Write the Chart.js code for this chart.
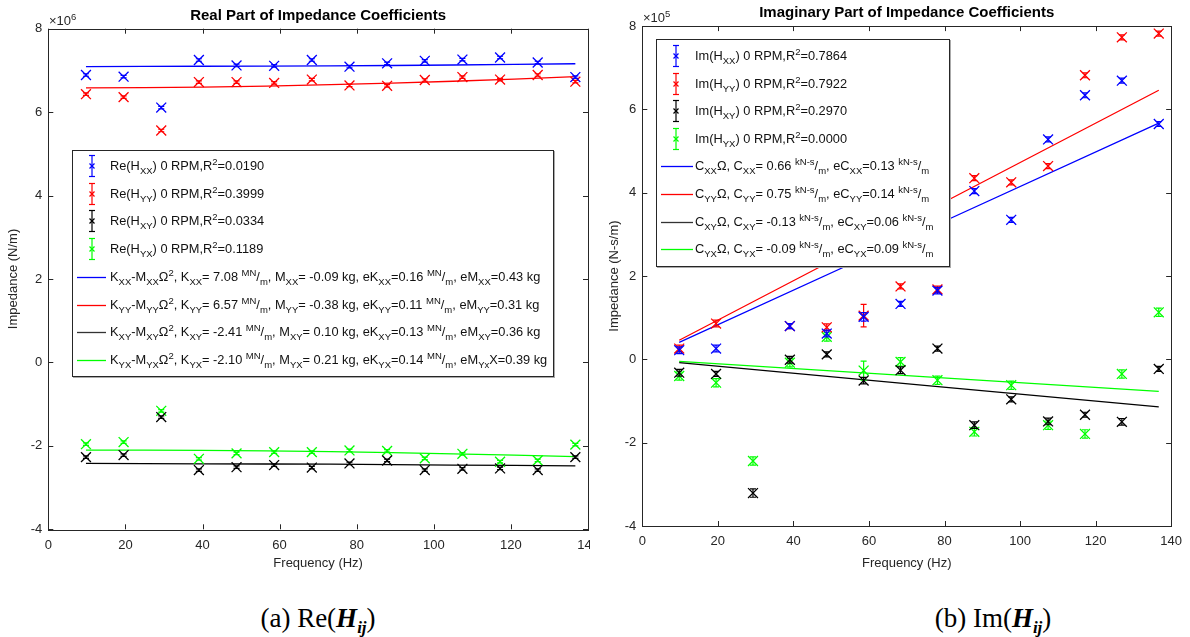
<!DOCTYPE html>
<html>
<head>
<meta charset="utf-8">
<script src="https://cdn.jsdelivr.net/npm/chart.js@4.4.1/dist/chart.umd.min.js"></script>
<style>
    body { margin: 0; background: #fff; width: 1190px; height: 637px; overflow: hidden; position: relative; font-family: "Liberation Sans", Arial, sans-serif; }
    .panel { position: absolute; top: 0; height: 580px; background: #fff; }
    #left { left: 0; width: 620px; }
    #right { left: 590px; width: 600px; }
    .expo { position: absolute; font-size: 13px; color: #262626; }
    .legend { position: absolute; background: #fff; border: 1px solid #262626; box-shadow: 1px 1px 0 #aaa; font-size: 12.8px; color: #111; }
    .legend .row { position: absolute; left: 0; height: 24px; white-space: nowrap; }
    .legend svg { position: absolute; left: 0; top: 0; }
    .legend .txt { position: absolute; top: 4px; line-height: 16px; }
    sub, sup { font-size: 9.5px; line-height: 0; position: relative; vertical-align: baseline; }
    sub { top: 4px; }
    sup { top: -5px; }
    .caption { position: absolute; top: 603px; font-family: "Liberation Serif", "Times New Roman", serif; font-size: 27px; color: #000; transform: translateX(-50%); white-space: nowrap; }
    .caption sub { font-size: 17px; top: 6px; }
</style>
</head>
<body>
<div class="panel" id="left"><canvas id="reChart"></canvas></div>
<div class="panel" id="right"><canvas id="imChart"></canvas></div>
<div class="expo" style="left:49px;top:13px;">×10<sup>6</sup></div>
<div class="expo" style="left:643px;top:10px;">×10<sup>5</sup></div>
<div class="legend" id="reLegend" style="left:72px;top:150px;width:480px;height:225px;"></div>
<div class="legend" id="imLegend" style="left:656px;top:39px;width:292px;height:226px;"></div>
<div class="caption" style="left:318px;">(a) Re(<b><i>H</i></b><sub><b><i>ij</i></b></sub>)</div>
<div class="caption" style="left:993px;">(b) Im(<b><i>H</i></b><sub><b><i>ij</i></b></sub>)</div>

<script>
// frequencies of the measured points (Hz)
const freq = [9.77, 19.53, 29.30, 39.06, 48.83, 58.59, 68.36, 78.13, 87.89, 97.66, 107.42, 117.19, 126.95, 136.72];

// Re(H), x1e6 N/m
const reXX = [6.89, 6.85, 6.11, 7.25, 7.12, 7.11, 7.25, 7.09, 7.17, 7.23, 7.26, 7.31, 7.19, 6.84];
const reYY = [6.43, 6.36, 5.56, 6.72, 6.72, 6.70, 6.78, 6.64, 6.63, 6.77, 6.84, 6.78, 6.89, 6.73];
const reXY = [-2.27, -2.22, -1.31, -2.58, -2.51, -2.46, -2.52, -2.42, -2.35, -2.58, -2.55, -2.54, -2.58, -2.27];
const reYX = [-1.96, -1.91, -1.16, -2.31, -2.18, -2.15, -2.15, -2.11, -2.12, -2.30, -2.19, -2.38, -2.35, -1.97];
const reErr = [0.03, 0.03, 0.03, 0.03, 0.03, 0.03, 0.03, 0.03, 0.03, 0.03, 0.03, 0.03, 0.03, 0.03];

// K - M*Omega^2 fits
const reFitF = [9.77, 40, 73.2, 105, 136.72];
const reFitXX = [7.09, 7.10, 7.11, 7.13, 7.16];
const reFitYY = [6.58, 6.60, 6.66, 6.74, 6.85];
const reFitXY = [-2.42, -2.43, -2.44, -2.46, -2.48];
const reFitYX = [-2.10, -2.11, -2.14, -2.19, -2.26];

// Im(H), x1e5 N-s/m
const imXX = [0.22, 0.26, null, 0.80, 0.62, 1.02, 1.33, 1.65, 4.04, 3.35, 5.28, 6.34, 6.69, 5.65];
const imYY = [0.26, 0.86, null, 0.80, 0.77, 1.05, 1.75, 1.68, 4.35, 4.25, 4.64, 6.82, 7.73, 7.82];
const imXY = [-0.32, -0.35, -3.21, -0.01, 0.12, -0.51, -0.26, 0.26, -1.58, -0.96, -1.49, -1.33, -1.50, -0.23];
const imYX = [-0.40, -0.56, -2.44, -0.08, 0.54, -0.27, -0.06, -0.50, -1.74, -0.62, -1.58, -1.79, -0.35, 1.13];
const imXXErr = [0.08, 0.08, 0, 0.06, 0.08, 0.10, 0.06, 0.08, 0.06, 0.06, 0.06, 0.06, 0.06, 0.06];
const imYYErr = [0.08, 0.08, 0, 0.06, 0.08, 0.27, 0.06, 0.08, 0.06, 0.06, 0.06, 0.06, 0.06, 0.06];
const imXYErr = [0.08, 0.06, 0.10, 0.08, 0.06, 0.08, 0.08, 0.06, 0.08, 0.06, 0.08, 0.06, 0.08, 0.06];
const imYXErr = [0.10, 0.10, 0.10, 0.10, 0.10, 0.23, 0.10, 0.10, 0.10, 0.10, 0.10, 0.10, 0.10, 0.10];

// C*Omega fits
const imFitF = [9.77, 136.72];
const imFitXX = [0.41, 5.67];
const imFitYY = [0.46, 6.46];
const imFitXY = [-0.08, -1.14];
const imFitYX = [-0.05, -0.77];

const COLORS = ['#0000ff', '#ff0000', '#000000', '#00ff00'];

const reLabels = [
    'Re(H<sub>XX</sub>) 0 RPM,R<sup>2</sup>=0.0190',
    'Re(H<sub>YY</sub>) 0 RPM,R<sup>2</sup>=0.3999',
    'Re(H<sub>XY</sub>) 0 RPM,R<sup>2</sup>=0.0334',
    'Re(H<sub>YX</sub>) 0 RPM,R<sup>2</sup>=0.1189',
    'K<sub>XX</sub>-M<sub>XX</sub>Ω<sup>2</sup>, K<sub>XX</sub>= 7.08 <sup>MN</sup>/<sub>m</sub>, M<sub>XX</sub>= -0.09 kg, eK<sub>XX</sub>=0.16 <sup>MN</sup>/<sub>m</sub>, eM<sub>XX</sub>=0.43 kg',
    'K<sub>YY</sub>-M<sub>YY</sub>Ω<sup>2</sup>, K<sub>YY</sub>= 6.57 <sup>MN</sup>/<sub>m</sub>, M<sub>YY</sub>= -0.38 kg, eK<sub>YY</sub>=0.11 <sup>MN</sup>/<sub>m</sub>, eM<sub>YY</sub>=0.31 kg',
    'K<sub>XY</sub>-M<sub>XY</sub>Ω<sup>2</sup>, K<sub>XY</sub>= -2.41 <sup>MN</sup>/<sub>m</sub>, M<sub>XY</sub>= 0.10 kg, eK<sub>XY</sub>=0.13 <sup>MN</sup>/<sub>m</sub>, eM<sub>XY</sub>=0.36 kg',
    'K<sub>YX</sub>-M<sub>YX</sub>Ω<sup>2</sup>, K<sub>YX</sub>= -2.10 <sup>MN</sup>/<sub>m</sub>, M<sub>YX</sub>= 0.21 kg, eK<sub>YX</sub>=0.14 <sup>MN</sup>/<sub>m</sub>, eM<sub>Yx</sub>X=0.39 kg'
];
const imLabels = [
    'Im(H<sub>XX</sub>) 0 RPM,R<sup>2</sup>=0.7864',
    'Im(H<sub>YY</sub>) 0 RPM,R<sup>2</sup>=0.7922',
    'Im(H<sub>XY</sub>) 0 RPM,R<sup>2</sup>=0.2970',
    'Im(H<sub>YX</sub>) 0 RPM,R<sup>2</sup>=0.0000',
    'C<sub>XX</sub>Ω, C<sub>XX</sub>= 0.66 <sup>kN-s</sup>/<sub>m</sub>, eC<sub>XX</sub>=0.13 <sup>kN-s</sup>/<sub>m</sub>',
    'C<sub>YY</sub>Ω, C<sub>YY</sub>= 0.75 <sup>kN-s</sup>/<sub>m</sub>, eC<sub>YY</sub>=0.14 <sup>kN-s</sup>/<sub>m</sub>',
    'C<sub>XY</sub>Ω, C<sub>XY</sub>= -0.13 <sup>kN-s</sup>/<sub>m</sub>, eC<sub>XY</sub>=0.06 <sup>kN-s</sup>/<sub>m</sub>',
    'C<sub>YX</sub>Ω, C<sub>YX</sub>= -0.09 <sup>kN-s</sup>/<sub>m</sub>, eC<sub>YX</sub>=0.09 <sup>kN-s</sup>/<sub>m</sub>'
];

const toXY = (xs, ys) => xs.map((x, i) => ({ x: x, y: ys[i] }));

function pointSet(vals, errs, color) {
    return {
        data: toXY(freq, vals),
        errors: errs,
        showLine: false,
        pointStyle: 'crossRot',
        pointRadius: 7,
        borderColor: color,
        backgroundColor: color,
        borderWidth: 1.3
    };
}

function fitSet(xs, vals, color) {
    return {
        data: toXY(xs, vals),
        showLine: true,
        pointRadius: 0,
        borderColor: color,
        borderWidth: 1.3,
        fill: false,
        tension: 0.4
    };
}

// vertical error bars with caps, drawn right after each point set
const errorBars = {
    id: 'errorBars',
    afterDatasetDraw(chart, args) {
        const ds = chart.data.datasets[args.index];
        if (!ds.errors) return;
        const ctx = chart.ctx;
        const y = chart.scales.y;
        ctx.save();
        ctx.strokeStyle = ds.borderColor;
        ctx.lineWidth = 1.2;
        ds.data.forEach((p, i) => {
            if (p.y == null || !ds.errors[i]) return;
            const px = chart.scales.x.getPixelForValue(p.x);
            const top = y.getPixelForValue(p.y + ds.errors[i]);
            const bot = y.getPixelForValue(p.y - ds.errors[i]);
            ctx.beginPath();
            ctx.moveTo(px, top); ctx.lineTo(px, bot);
            ctx.moveTo(px - 3, top); ctx.lineTo(px + 3, top);
            ctx.moveTo(px - 3, bot); ctx.lineTo(px + 3, bot);
            ctx.stroke();
        });
        ctx.restore();
    }
};

// MATLAB style box with inward ticks on all four sides
const matlabBox = {
    id: 'matlabBox',
    afterDatasetsDraw(chart) {
        const { ctx, chartArea: a, scales } = chart;
        ctx.save();
        ctx.strokeStyle = '#262626';
        ctx.lineWidth = 1;
        ctx.beginPath();
        scales.x.ticks.forEach(t => {
            const px = Math.round(scales.x.getPixelForValue(t.value)) + 0.5;
            ctx.moveTo(px, a.bottom); ctx.lineTo(px, a.bottom - 5);
            ctx.moveTo(px, a.top); ctx.lineTo(px, a.top + 5);
        });
        scales.y.ticks.forEach(t => {
            const py = Math.round(scales.y.getPixelForValue(t.value)) + 0.5;
            ctx.moveTo(a.left, py); ctx.lineTo(a.left + 5, py);
            ctx.moveTo(a.right, py); ctx.lineTo(a.right - 5, py);
        });
        ctx.stroke();
        ctx.strokeRect(Math.round(a.left) + 0.5, Math.round(a.top) + 0.5, Math.round(a.right - a.left), Math.round(a.bottom - a.top));
        ctx.restore();
    }
};

function makeChart(id, opt) {
    const font = { family: '"Liberation Sans", Arial, sans-serif', size: 13 };
    return new Chart(document.getElementById(id), {
        type: 'scatter',
        data: { datasets: opt.datasets },
        plugins: [errorBars, matlabBox],
        options: {
            responsive: true,
            maintainAspectRatio: false,
            animation: false,
            events: [],
            layout: { padding: { left: 0, right: opt.padRight, top: 0, bottom: 0 } },
            plugins: {
                legend: { display: false },
                tooltip: { enabled: false },
                title: {
                    display: true,
                    text: opt.title,
                    fullSize: false,
                    color: '#000',
                    font: { family: font.family, size: 15, weight: 'bold' },
                    padding: opt.titlePad
                }
            },
            scales: {
                x: {
                    type: 'linear',
                    min: 0, max: 140,
                    grid: { display: false, drawTicks: false },
                    border: { display: false },
                    ticks: { stepSize: 20, color: '#262626', font: font, padding: 8, maxRotation: 0 },
                    title: { display: true, text: 'Frequency (Hz)', color: '#262626', font: font, padding: { top: 0, bottom: 9 } },
                    afterFit: s => { s.height = opt.xHeight; }
                },
                y: {
                    min: -4, max: 8,
                    grid: { display: false, drawTicks: false },
                    border: { display: false },
                    ticks: { stepSize: 2, color: '#262626', font: font, padding: 6 },
                    title: { display: true, text: opt.yTitle, color: '#262626', font: font, padding: { top: opt.yTitlePad, bottom: 0 } },
                    afterFit: s => { s.width = opt.yWidth; }
                }
            }
        }
    });
}

makeChart('reChart', {
    title: 'Real Part of Impedance Coefficients',
    yTitle: 'Impedance (N/m)',
    titlePad: { top: 6.8, bottom: 3.9 },
    padRight: 32,
    xHeight: 50.7,
    yWidth: 48.3,
    yTitlePad: 6,
    datasets: [
        pointSet(reXX, reErr, COLORS[0]),
        pointSet(reYY, reErr, COLORS[1]),
        pointSet(reXY, reErr, COLORS[2]),
        pointSet(reYX, reErr, COLORS[3]),
        fitSet(reFitF, reFitXX, COLORS[0]),
        fitSet(reFitF, reFitYY, COLORS[1]),
        fitSet(reFitF, reFitXY, COLORS[2]),
        fitSet(reFitF, reFitYX, COLORS[3])
    ]
});

makeChart('imChart', {
    title: 'Imaginary Part of Impedance Coefficients',
    yTitle: 'Impedance (N-s/m)',
    titlePad: { top: 4, bottom: 4.1 },
    padRight: 14,
    xHeight: 54,
    yWidth: 52.3,
    yTitlePad: 17,
    datasets: [
        pointSet(imXX, imXXErr, COLORS[0]),
        pointSet(imYY, imYYErr, COLORS[1]),
        pointSet(imXY, imXYErr, COLORS[2]),
        pointSet(imYX, imYXErr, COLORS[3]),
        fitSet(imFitF, imFitXX, COLORS[0]),
        fitSet(imFitF, imFitYY, COLORS[1]),
        fitSet(imFitF, imFitXY, COLORS[2]),
        fitSet(imFitF, imFitYX, COLORS[3])
    ]
});

// HTML legends (sub/superscripts need real markup)
function buildLegend(id, labels, first, step, lineEnd, textLeft) {
    const box = document.getElementById(id);
    labels.forEach((html, i) => {
        const color = COLORS[i % 4];
        const row = document.createElement('div');
        row.className = 'row';
        row.style.top = (first + i * step - 12) + 'px';
        row.style.width = '100%';
        let icon;
        if (i < 4) {
            icon = `<svg width="40" height="24"><g stroke="${color}" stroke-width="1.2">
                <line x1="19" y1="1.5" x2="19" y2="22.5"/><line x1="16" y1="1.5" x2="22" y2="1.5"/><line x1="16" y1="22.5" x2="22" y2="22.5"/>
                <line x1="16.5" y1="9.5" x2="21.5" y2="14.5"/><line x1="16.5" y1="14.5" x2="21.5" y2="9.5"/></g></svg>`;
        } else {
            const c = i === 6 ? '#333' : color;
            icon = `<svg width="40" height="24"><line x1="4" y1="12.5" x2="${lineEnd}" y2="12.5" stroke="${c}" stroke-width="1.3"/></svg>`;
        }
        row.innerHTML = icon + `<span class="txt" style="left:${textLeft}px">${html}</span>`;
        box.appendChild(row);
    });
}

buildLegend('reLegend', reLabels, 15, 27.7, 33, 37);
buildLegend('imLegend', imLabels, 16, 27.6, 36, 38);
</script>
</body>
</html>
